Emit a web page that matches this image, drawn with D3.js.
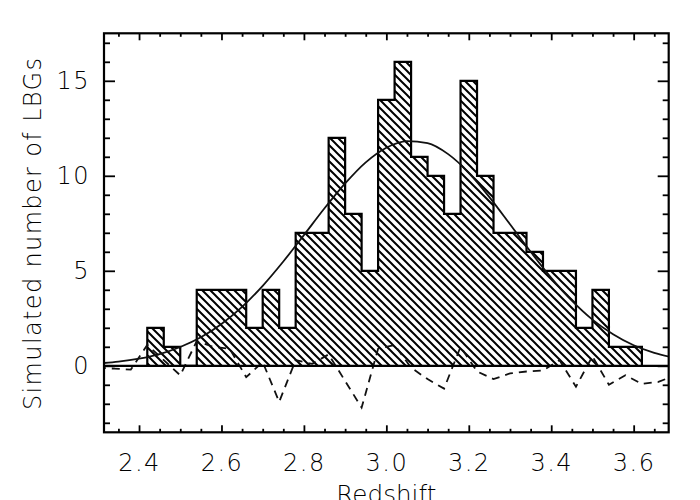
<!DOCTYPE html>
<html>
<head>
<meta charset="utf-8">
<script src="https://cdn.jsdelivr.net/npm/d3@7"></script>
<style>
  html, body { margin: 0; padding: 0; background: #fff; }
  svg { display: block; }
  text { font-family: "DejaVu Sans", sans-serif; fill: #000; }
</style>
</head>
<body>
<svg id="chart" width="700" height="500"></svg>
<script>
// ---- data ----
const binLeft = [2.42,2.46,2.50,2.54,2.58,2.62,2.66,2.70,2.74,2.78,2.82,2.86,2.90,2.94,2.98,3.02,3.06,3.10,3.14,3.18,3.22,3.26,3.30,3.34,3.38,3.42,3.46,3.50,3.54,3.58];
const counts  = [2,1,0,4,4,4,2,4,2,7,7,12,8,5,14,16,11,10,8,15,10,7,7,6,5,5,2,4,1,1];
const binWidth = 0.04;

const curveZ    = [2.30,2.35,2.40,2.45,2.50,2.55,2.60,2.65,2.70,2.75,2.80,2.85,2.90,2.95,3.00,3.05,3.10,3.15,3.20,3.25,3.30,3.35,3.40,3.45,3.50,3.55,3.60,3.65,3.70];
const curveVals = [0.12,0.22,0.38,0.62,0.99,1.50,2.20,3.10,4.21,5.49,6.88,8.29,9.60,10.71,11.48,11.83,11.72,11.14,10.16,8.88,7.45,6.00,4.63,3.43,2.43,1.66,1.08,0.68,0.41];

const residZ    = [2.30,2.34,2.38,2.42,2.46,2.50,2.54,2.58,2.62,2.66,2.70,2.74,2.78,2.82,2.86,2.90,2.94,2.98,3.02,3.06,3.10,3.14,3.18,3.22,3.26,3.30,3.34,3.38,3.42,3.46,3.50,3.54,3.58,3.62,3.66,3.70];
const residVals = [-0.1,-0.15,-0.2,1.1,0.3,-0.5,1.3,1.0,0.9,-0.6,0.2,-1.9,0.3,0.1,0.6,-0.8,-2.2,0.9,1.1,-0.1,-0.7,-1.2,1.0,-0.3,-0.7,-0.4,-0.3,-0.25,0.3,-1.1,0.5,-1.0,-0.5,-0.95,-0.85,-0.5];

const xMajor = [2.4,2.6,2.8,3.0,3.2,3.4,3.6];
const xMinor = [2.35,2.45,2.5,2.55,2.65,2.7,2.75,2.85,2.9,2.95,3.05,3.1,3.15,3.25,3.3,3.35,3.45,3.5,3.55,3.65];
const yMajor = [0,5,10,15];
const yMinor = [-3,-2,-1,1,2,3,4,6,7,8,9,11,12,13,14,16,17];
const xLabels = ["2.4","2.6","2.8","3.0","3.2","3.4","3.6"];
const yLabels = ["0","5","10","15"];

// ---- layout ----
const L = 104, R = 668.7, T = 33.3, B = 432.3;
const x = d3.scaleLinear().domain([2.315, 3.685]).range([L, R]);
const y = d3.scaleLinear().domain([-3.5, 17.5]).range([B, T]);

const svg = d3.select("#chart");
const defs = svg.append("defs");
defs.append("clipPath").attr("id", "clip")
  .append("rect").attr("x", L).attr("y", T).attr("width", R - L).attr("height", B - T);

const pat = defs.append("pattern").attr("id", "hatch")
  .attr("patternUnits", "userSpaceOnUse").attr("width", 8).attr("height", 8);
pat.append("path")
  .attr("d", "M-2,6 L2,10 M-1,-1 L9,9 M6,-2 L10,2")
  .attr("stroke", "#000").attr("stroke-width", 2).attr("fill", "none");

// step outline points
const stepPts = [];
binLeft.forEach((b, i) => {
  stepPts.push([b, counts[i]]);
  stepPts.push([b + binWidth, counts[i]]);
});
const first = binLeft[0], last = binLeft[binLeft.length - 1] + binWidth;
const areaPts = [[first, 0], ...stepPts, [last, 0]];

const line = d3.line().x(d => x(d[0])).y(d => y(d[1]));

const g = svg.append("g").attr("clip-path", "url(#clip)");

g.append("path").datum(areaPts)
  .attr("d", line)
  .attr("fill", "url(#hatch)").attr("stroke", "none");

g.append("path").datum(areaPts)
  .attr("d", line)
  .attr("fill", "none").attr("stroke", "#000").attr("stroke-width", 2.2)
  .attr("stroke-linejoin", "miter");

// model curve
g.append("path").datum(curveZ.map((z, i) => [z, curveVals[i]]))
  .attr("d", d3.line().x(d => x(d[0])).y(d => y(d[1])).curve(d3.curveMonotoneX))
  .attr("fill", "none").attr("stroke", "#111").attr("stroke-width", 1.8);

// residual dashed line
g.append("path").datum(residZ.map((z, i) => [z, residVals[i]]))
  .attr("d", line)
  .attr("fill", "none").attr("stroke", "#111").attr("stroke-width", 1.8)
  .attr("stroke-dasharray", "8,6");

// zero line
g.append("line")
  .attr("x1", L).attr("x2", R).attr("y1", y(0)).attr("y2", y(0))
  .attr("stroke", "#000").attr("stroke-width", 2.2);

// ---- axes ----
function styleAxis(sel) {
  sel.select(".domain").remove();
  sel.selectAll(".tick line").attr("stroke", "#000").attr("stroke-width", 1.8);
}
const fs = 24;
function styleLabels(s) {
  s.selectAll("text").attr("font-size", fs).attr("font-family", "DejaVu Sans")
    .attr("font-weight", 200).attr("letter-spacing", 1.5);
}
svg.append("g").attr("transform", `translate(0,${B})`)
  .call(d3.axisBottom(x).tickValues(xMajor).tickFormat((d, i) => xLabels[i]).tickSizeInner(-7).tickSizeOuter(0).tickPadding(22))
  .call(styleAxis)
  .call(styleLabels);
svg.append("g").attr("transform", `translate(0,${B})`)
  .call(d3.axisBottom(x).tickValues(xMinor).tickFormat("").tickSizeInner(-3.5).tickSizeOuter(0))
  .call(styleAxis);
svg.append("g").attr("transform", `translate(0,${T})`)
  .call(d3.axisTop(x).tickValues(xMajor).tickFormat("").tickSizeInner(-7).tickSizeOuter(0))
  .call(styleAxis);
svg.append("g").attr("transform", `translate(0,${T})`)
  .call(d3.axisTop(x).tickValues(xMinor).tickFormat("").tickSizeInner(-3.5).tickSizeOuter(0))
  .call(styleAxis);

svg.append("g").attr("transform", `translate(${L},0)`)
  .call(d3.axisLeft(y).tickValues(yMajor).tickFormat((d, i) => yLabels[i]).tickSizeInner(-11).tickSizeOuter(0).tickPadding(14))
  .call(styleAxis)
  .call(styleLabels);
svg.append("g").attr("transform", `translate(${L},0)`)
  .call(d3.axisLeft(y).tickValues(yMinor).tickFormat("").tickSizeInner(-6).tickSizeOuter(0))
  .call(styleAxis);
svg.append("g").attr("transform", `translate(${R},0)`)
  .call(d3.axisRight(y).tickValues(yMajor).tickFormat("").tickSizeInner(-11).tickSizeOuter(0))
  .call(styleAxis);
svg.append("g").attr("transform", `translate(${R},0)`)
  .call(d3.axisRight(y).tickValues(yMinor).tickFormat("").tickSizeInner(-6).tickSizeOuter(0))
  .call(styleAxis);

// frame
svg.append("rect").attr("x", L).attr("y", T).attr("width", R - L).attr("height", B - T)
  .attr("fill", "none").attr("stroke", "#000").attr("stroke-width", 2.2);

// axis titles
svg.append("text")
  .attr("x", (L + R) / 2).attr("y", 503)
  .attr("text-anchor", "middle").attr("font-size", fs).attr("font-weight", 200)
  .attr("textLength", 100).attr("lengthAdjust", "spacingAndGlyphs")
  .text("Redshift");
svg.append("text")
  .attr("transform", `translate(41,${(58 + 410) / 2}) rotate(-90)`)
  .attr("text-anchor", "middle").attr("font-size", fs).attr("font-weight", 200)
  .attr("textLength", 352).attr("lengthAdjust", "spacing")
  .text("Simulated number of LBGs");
</script>
</body>
</html>
